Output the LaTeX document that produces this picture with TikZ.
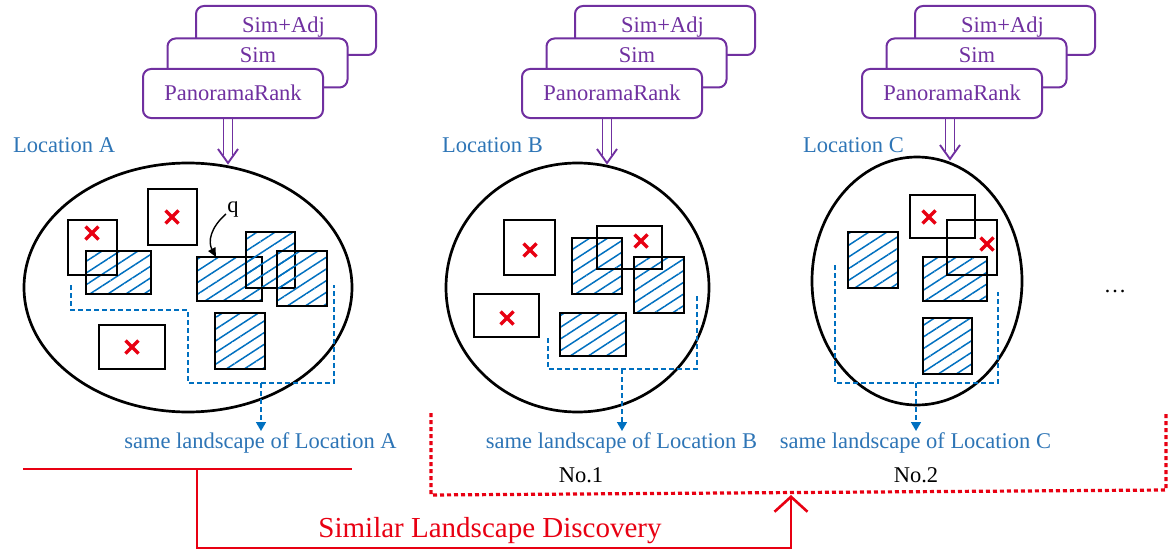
\documentclass[tikz,border=0pt]{standalone}
\usepackage{fontspec}
\setmainfont{Liberation Serif}
\usetikzlibrary{arrows.meta,patterns.meta}
\definecolor{pviolet}{RGB}{112,48,160}
\definecolor{lblue}{RGB}{0,112,192}
\definecolor{txtblue}{RGB}{46,117,182}
\definecolor{lred}{RGB}{232,0,18}
\tikzset{
  boxline/.style={draw=black,line width=2pt},
  hatchbox/.style={boxline,pattern={Lines[angle=33,distance=9.8pt,line width=1.5pt]},pattern color=lblue},
  region/.style={draw=black,line width=2.7pt},
  method/.style={draw=pviolet,line width=2pt,rounded corners=8pt,fill=white,minimum width=180pt,minimum height=49pt,inner sep=0pt},
  methodtxt/.style={text=pviolet,anchor=base,inner sep=0pt},
  loclabel/.style={text=txtblue,anchor=base west,inner sep=0pt},
  samelabel/.style={text=txtblue,anchor=base,inner sep=0pt},
  groupline/.style={draw=lblue,line width=1.6pt,dash pattern=on 5pt off 3pt},
  grouparrow/.style={groupline,-{Triangle[length=9pt,width=10pt]}},
  parrow/.style={draw=pviolet,line width=1.9pt},
  redsolid/.style={draw=lred,line width=2.6pt},
  reddots/.style={draw=lred,line width=3.2pt,dash pattern=on 4pt off 3pt},
  crossmark/.pic={\draw[lred,line width=3.2pt] (-6.5,-6.5)--(6.5,6.5) (-6.5,6.5)--(6.5,-6.5);}
}
\begin{document}
\begin{tikzpicture}[x=1pt,y=-1pt,font=\fontsize{22.5}{27}\selectfont]
\useasboundingbox (0,0) rectangle (1168,551);

% ---------- method stacks above each location ----------
\foreach \dx/\tag in {0/A,379/B,719/C}{
  \node[method] (adj\tag) at (286+\dx,30.5) {};
  \node[method] (sim\tag) at (257.5+\dx,63) {};
  \node[method] (pr\tag) at (233+\dx,93.5) {};
  \node[methodtxt] (adjt\tag) at (283.5+\dx,33) {Sim+Adj};
  \node[methodtxt] (simt\tag) at (258+\dx,63) {Sim};
  \node[methodtxt] (prt\tag) at (233+\dx,100) {PanoramaRank};
}
% hollow double arrows from the rank box down onto each region
\foreach \ax/\ty/\tag in {228/163/A,607/163/B,950/159/C}{
  \coordinate (tip\tag) at (\ax,\ty);
  \draw[parrow] (\ax-4.5,118) -- (\ax-4.5,\ty-8) (\ax+4.5,118) -- (\ax+4.5,\ty-8);
  \draw[parrow,line join=miter] (\ax-10,\ty-14) -- (tip\tag) -- (\ax+10,\ty-14);
}

% ---------- location labels ----------
\node[loclabel] (locA) at (13,152) {Location A};
\node[loclabel] (locB) at (442,152) {Location B};
\node[loclabel] (locC) at (803,152) {Location C};

% ---------- Location A ----------
\draw[region] (188,287.5) ellipse [x radius=164pt, y radius=124.5pt];
\draw[hatchbox] (86,251) rectangle (151,294);
\draw[hatchbox] (197,257) rectangle (262,301);
\draw[hatchbox] (246,232) rectangle (295,288);
\draw[hatchbox] (277,251) rectangle (327,306);
\draw[hatchbox] (215,313) rectangle (265,369);
\draw[boxline] (68,220) rectangle (117,275);
\draw[boxline] (148,189) rectangle (197,245);
\draw[boxline] (99,325) rectangle (165,369);
\pic at (92,233) {crossmark};
\pic at (172,217) {crossmark};
\pic at (132,347) {crossmark};
\node[inner sep=0pt,anchor=base] (qlab) at (233,212) {q};
\coordinate (qtip) at (216,257);
\draw[line width=1.4pt,-{Triangle[length=9pt,width=8pt]}] (226,214) .. controls (210,228) and (208,242) .. (qtip);
\draw[groupline] (71,285) -- (71,310) -- (188,310) -- (188,383) -- (334,383) -- (334,285);
\coordinate (grpA) at (261,383);
\node[samelabel] (sameA) at (260.5,448) {same landscape of Location A};
\draw[grouparrow] (grpA) -- (261,431);

% ---------- Location B ----------
\draw[region] (577.5,287.5) ellipse [x radius=131.5pt, y radius=124.5pt];
\draw[hatchbox] (572,238) rectangle (622,294);
\draw[hatchbox] (634,257) rectangle (684,313);
\draw[hatchbox] (560,313) rectangle (626,356);
\draw[boxline] (504,220) rectangle (555,275);
\draw[boxline] (474,294) rectangle (539,337);
\draw[boxline] (597,226) rectangle (662,269);
\pic at (530,250) {crossmark};
\pic at (507,318) {crossmark};
\pic at (641,241) {crossmark};
\draw[groupline] (548,338) -- (548,369) -- (697,369) -- (697,296);
\coordinate (grpB) at (622,369);
\node[samelabel] (sameB) at (621.5,448) {same landscape of Location B};
\draw[grouparrow] (grpB) -- (622,431);
\node[anchor=base,inner sep=0pt] (no1) at (581,482) {No.1};

% ---------- Location C ----------
\draw[region] (917,281) ellipse [x radius=105pt, y radius=124pt];
\draw[hatchbox] (848,232) rectangle (898,288);
\draw[hatchbox] (923,257) rectangle (987,301);
\draw[hatchbox] (923,318) rectangle (972,374);
\draw[boxline] (910,195) rectangle (975,238);
\draw[boxline] (947,220) rectangle (997,275);
\pic at (929,217) {crossmark};
\pic at (987,244) {crossmark};
\draw[groupline] (835,265) -- (835,383) -- (998,383) -- (998,292);
\coordinate (grpC) at (916,383);
\node[samelabel] (sameC) at (915.5,448) {same landscape of Location C};
\draw[grouparrow] (grpC) -- (916,431);
\node[anchor=base,inner sep=0pt] (no2) at (916,482) {No.2};

\node[anchor=base,inner sep=0pt] (more) at (1115,292) {\ldots};

% ---------- similar landscape discovery ----------
\coordinate (qa) at (23,469);
\coordinate (qb) at (352,469);
\coordinate (qbranch) at (197,469);
\coordinate (found) at (791,495);
\draw[reddots] (431,413) -- (431,495) -- (1166,490) -- (1166,413);
\draw[redsolid] (qa) -- (qb);
\draw[redsolid,-{Straight Barb[length=15pt,width=33pt]}] (qbranch) -- (197,548) -- (791,548) -- (found);
\node[text=lred,anchor=base,inner sep=0pt,font=\fontsize{29}{34}\selectfont] (sld) at (490,537) {Similar Landscape Discovery};
\end{tikzpicture}
\end{document}
